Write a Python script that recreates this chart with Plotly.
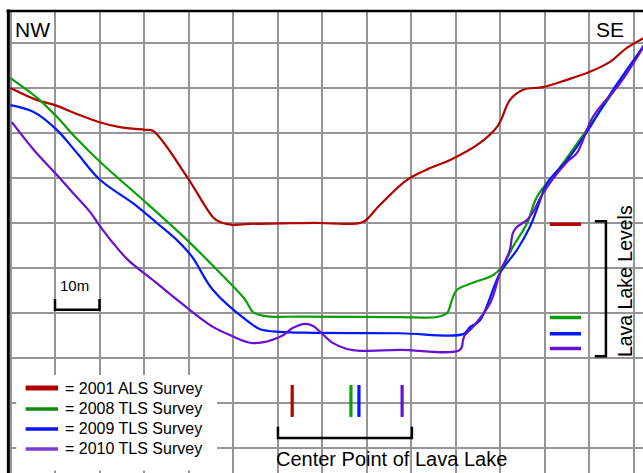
import plotly.graph_objects as go

# Cross-section profile NW -> SE: distance along profile (m) and relative elevation (m)
als2001_x = [0, 6, 10, 14.5, 20, 24.6, 30.2, 32, 39.7, 45.5, 47.1, 50, 53.8, 60.5, 69.5, 75.6, 79.2,
             83, 89.1, 94.3, 98.8, 105.5, 109.3, 110.4, 112.2, 115.2, 119.7, 125, 130.2, 134.7, 138.5, 142.5]
als2001_y = [-10, -12.7, -13.8, -15.6, -17.6, -18.7, -19.3, -19.5, -29.8, -38.7, -39.8, -40.4, -40.2,
             -40.1, -40, -40.2, -39.8, -36, -30.4, -27.8, -26, -22.2, -18.7, -16.7, -12.7, -10.4, -9.8,
             -8.2, -6.4, -4.2, -1.1, 1.2]

tls2008_x = [0, 6, 10.4, 14.9, 20.1, 29.8, 39.7, 44.2, 52.2, 53.2, 54.5, 57.2, 65, 87.5, 95.8, 98.1,
             99.2, 100.3, 103.9, 108.4, 110.4, 112.9, 116.1, 118.3, 123.5, 129.5, 135.4, 142.5]
tls2008_y = [-7.8, -12.2, -16.4, -21.3, -26.4, -34.9, -43.8, -48.2, -56.4, -57.8, -59.8, -60.7, -60.8,
             -60.9, -60.9, -60, -57.1, -54.9, -53.3, -51.6, -49.8, -45.3, -40, -34.2, -27.6, -19.3,
             -10.9, -0.2]

tls2009_x = [0, 5.1, 10.4, 14.9, 20.1, 27.5, 32.9, 37.4, 40.8, 45.5, 53.8, 56.1, 60.6, 68, 87.5,
             101.7, 103.3, 105.5, 110, 113.8, 116.7, 118.5, 120.6, 125.1, 129.5, 135.4, 142.5]
tls2009_y = [-13.8, -15.3, -19.3, -24.4, -30.4, -35.6, -40, -43.8, -47.5, -54.9, -62.2, -63.6, -64.2,
             -64.4, -64.5, -64.7, -63.1, -61.6, -51.1, -46, -40.9, -36.4, -31.1, -26, -19.8, -10.4, -0.4]

tls2010_x = [0.3, 5.1, 10.4, 14, 17.9, 20.1, 23, 26.4, 32.5, 38.1, 45.5, 49.3, 54.5, 60.6, 63.5, 66.2,
             68, 69.6, 72.5, 75.6, 78.5, 87.5, 101, 101.7, 102.1, 103.9, 107.8, 110, 112.2, 112.9,
             113.8, 116.1, 117.4, 119.7, 125.1, 127.3, 130.9, 137, 142.5]
tls2010_y = [-17.6, -23.6, -29.3, -33.3, -37.6, -40.7, -44.4, -48.2, -53.1, -57.6, -63.1, -64.9, -66.7,
             -65.3, -63.3, -62.4, -62.9, -64.2, -66.7, -68, -68.4, -68.2, -68.2, -66, -64.9, -63.1,
             -57.8, -51.1, -46, -42.2, -40.9, -39.3, -37.6, -33.3, -26.4, -24.4, -16.4, -8.9, -0.4]

series_names = ["= 2001 ALS Survey", "= 2008 TLS Survey", "= 2009 TLS Survey", "= 2010 TLS Survey"]
line_colors = ["#b40000", "#0a9e0a", "#0018ff", "#6a10d2"]
legend_colors = ["#b00000", "#0f8a0f", "#0a14ff", "#7a3cd6"]
legend_widths = [5, 3.6, 3.6, 3.6]

lake_levels = [-40.3, -61.0, -64.6, -67.9]      # lava lake surface per survey (m)
center_points = [63.3, 76.5, 78.3, 88.0]        # lava lake centre position per survey (m)
scale_bar = [10, 20]                            # 10 m scale bar

FONT = "Liberation Sans, Arial, Helvetica, sans-serif"

fig = go.Figure()
profiles = [(als2001_x, als2001_y), (tls2008_x, tls2008_y), (tls2009_x, tls2009_y), (tls2010_x, tls2010_y)]
for (xs, ys), c, name in zip(profiles, line_colors, series_names):
    fig.add_trace(go.Scatter(x=xs, y=ys, mode="lines", name=name, showlegend=False, hoverinfo="skip",
                             line=dict(color=c, width=2.2, shape="spline", smoothing=1.0)))

shapes = []
annotations = []
# white legend panel
shapes.append(dict(type="rect", xref="x", yref="y", x0=1.3, x1=46.4, y0=-95.0, y1=-73.8,
                   fillcolor="white", line=dict(width=0), layer="between"))
legend_rows = [-76.67, -81.33, -85.78, -90.22]
for name, c, w, ly in zip(series_names, legend_colors, legend_widths, legend_rows):
    shapes.append(dict(type="line", xref="x", yref="y", x0=3.4, x1=10.7, y0=ly, y1=ly,
                       line=dict(color=c, width=w)))
    annotations.append(dict(text=name, x=11.8, y=ly, xref="x", yref="y", xanchor="left",
                            yanchor="middle", showarrow=False,
                            font=dict(size=16, color="black", family=FONT)))
# lava lake level markers
for lv, c in zip(lake_levels, line_colors):
    shapes.append(dict(type="line", xref="x", yref="y", x0=121.2, x1=128.2, y0=lv, y1=lv,
                       line=dict(color=c, width=3.5)))
shapes.append(dict(type="path", xref="x", yref="y",
                   path="M 131.3 -39.6 L 133.8 -39.6 L 133.8 -69.6 L 131.3 -69.6",
                   line=dict(color="black", width=2.5)))
# center point markers
for cp, c in zip(center_points, line_colors):
    shapes.append(dict(type="line", xref="x", yref="y", x0=cp, x1=cp, y0=-76.0, y1=-83.1,
                       line=dict(color=c, width=3.2)))
shapes.append(dict(type="path", xref="x", yref="y",
                   path="M 60.1 -85.3 L 60.1 -87.8 L 90.2 -87.8 L 90.2 -85.3",
                   line=dict(color="black", width=2.5)))
# scale bar
shapes.append(dict(type="path", xref="x", yref="y",
                   path=f"M {scale_bar[0]} -56.9 L {scale_bar[0]} -59.3 L {scale_bar[1]} -59.3 L {scale_bar[1]} -56.9",
                   line=dict(color="black", width=2.5)))
# frame (left and top)
shapes.append(dict(type="line", xref="paper", yref="paper", x0=-0.001, x1=-0.001, y0=0, y1=1.003,
                   line=dict(color="black", width=3)))
shapes.append(dict(type="line", xref="paper", yref="paper", x0=-0.004, x1=1, y0=1, y1=1,
                   line=dict(color="black", width=2.6)))

annotations += [
    dict(text="NW", x=0.6, y=3.1, xref="x", yref="y", xanchor="left", yanchor="middle",
         showarrow=False, font=dict(size=21, color="black", family=FONT)),
    dict(text="SE", x=138.4, y=3.1, xref="x", yref="y", xanchor="right", yanchor="middle",
         showarrow=False, font=dict(size=21, color="black", family=FONT)),
    dict(text="10m", x=10.6, y=-53.8, xref="x", yref="y", xanchor="left", yanchor="middle",
         showarrow=False, font=dict(size=15, color="black", family=FONT)),
    dict(text="Lava Lake Levels", x=138.1, y=-52.9, xref="x", yref="y", xanchor="center",
         yanchor="middle", textangle=-90, showarrow=False,
         font=dict(size=19.5, color="black", family=FONT)),
    dict(text="Center Point of Lava Lake", x=59.3, y=-92.4, xref="x", yref="y", xanchor="left",
         yanchor="middle", showarrow=False, font=dict(size=20, color="black", family=FONT)),
]

fig.update_layout(
    width=643, height=473,
    margin=dict(l=9, r=0, t=11, b=0, pad=0, autoexpand=False),
    paper_bgcolor="white", plot_bgcolor="white",
    shapes=shapes, annotations=annotations,
    showlegend=False,
    xaxis=dict(range=[-0.337, 142.13], tick0=0, dtick=10, showgrid=True, gridcolor="#959595",
               gridwidth=1.6, showticklabels=False, ticks="", zeroline=False, showline=False,
               fixedrange=True),
    yaxis=dict(range=[-95.56, 7.11], tick0=0, dtick=10, showgrid=True, gridcolor="#959595",
               gridwidth=1.6, showticklabels=False, ticks="", zeroline=False, showline=False,
               fixedrange=True),
)

fig.write_html("out.html", config={"displayModeBar": False},
               post_script="document.body.style.margin='0';document.body.style.overflow='hidden';")
